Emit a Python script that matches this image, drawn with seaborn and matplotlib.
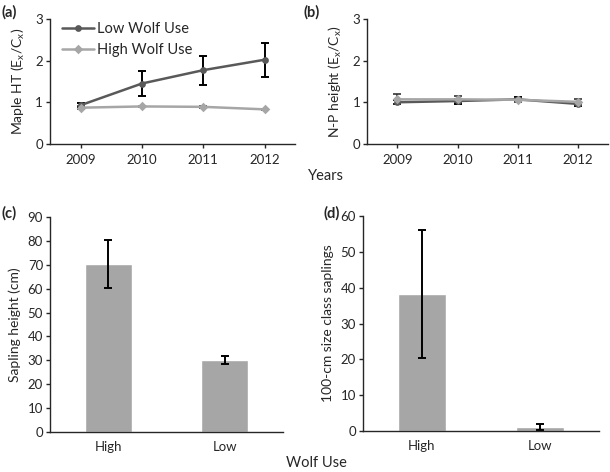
import matplotlib
matplotlib.use('Agg')
import matplotlib.pyplot as plt
import seaborn as sns
import pandas as pd

YEARS = ["2009", "2010", "2011", "2012"]
SERIES = ["Low Wolf Use", "High Wolf Use"]

# panel (a) maple height ratio
maple_low = [0.93, 1.45, 1.77, 2.02]
maple_low_err = [0.05, 0.30, 0.35, 0.41]
maple_high = [0.87, 0.90, 0.89, 0.83]
maple_high_err = [0.03, 0.02, 0.03, 0.02]

# panel (b) N-P height ratio
np_low = [1.00, 1.03, 1.07, 0.96]
np_low_err = [0.05, 0.06, 0.05, 0.05]
np_high = [1.07, 1.07, 1.06, 1.01]
np_high_err = [0.12, 0.07, 0.05, 0.08]

WOLF = ["High", "Low"]
sapling_height = [70.5, 30.1]
sapling_height_err = [10.1, 1.5]
size_class = [38.2, 1.2]
size_class_err = [17.8, 0.8]

COLORS = {"Low Wolf Use": "#595959", "High Wolf Use": "#a6a6a6"}
BAR = "#a6a6a6"

sns.set_style("white")
plt.rcParams['font.family'] = ['Lato', 'DejaVu Sans']
plt.rcParams['mathtext.fontset'] = 'custom'
plt.rcParams['mathtext.rm'] = 'Lato'


def style_axes(ax):
    sns.despine(ax=ax)
    for s in ["left", "bottom"]:
        ax.spines[s].set_color("#262626")
        ax.spines[s].set_linewidth(1.0)
    ax.tick_params(axis="y", direction="out", length=3, width=1, color="#262626",
                   left=True, labelsize=9.5, pad=2)
    ax.tick_params(axis="x", labelsize=9.5)


def line_panel(ax, low, low_err, high, high_err, ylabel, legend):
    df = pd.DataFrame({
        "year": YEARS * 2,
        "value": low + high,
        "series": [SERIES[0]] * 4 + [SERIES[1]] * 4,
    })
    # error bars first so lines sit on top
    for i, y in enumerate(YEARS):
        ax.errorbar(i, low[i], yerr=low_err[i], color="black", lw=1.4, capsize=3, capthick=1.4, zorder=2)
        ax.errorbar(i, high[i], yerr=high_err[i], color="#333333", lw=1.2, capsize=3, capthick=1.2, zorder=2)
    sns.pointplot(data=df, x="year", y="value", hue="series", hue_order=SERIES,
                  palette=COLORS, markers=["o", "D"], markersize=3.5, linewidth=1.8,
                  errorbar=None, ax=ax, legend=legend)
    ax.set_xlim(-0.5, 3.5)
    ax.set_ylim(0, 3)
    ax.set_yticks([0, 1, 2, 3])
    ax.set_xlabel("")
    ax.set_ylabel(ylabel, fontsize=10, labelpad=6)
    style_axes(ax)
    ax.tick_params(axis="x", direction="out", length=3, width=1, color="#262626", bottom=True, pad=4)
    if legend:
        ax.legend(loc="upper left", frameon=False, fontsize=10.5, handlelength=2.2,
                  handletextpad=0.2, borderaxespad=0.1, bbox_to_anchor=(0.02, 1.03),
                  labelspacing=0.45)


def bar_panel(ax, values, err, ylim, ylabel):
    df = pd.DataFrame({"wolf": WOLF, "value": values})
    sns.barplot(data=df, x="wolf", y="value", color=BAR, width=0.4, errorbar=None,
                saturation=1, ax=ax)
    ax.errorbar(range(len(WOLF)), values, yerr=err, fmt="none", ecolor="black",
                lw=1.4, capsize=3, capthick=1.4)
    ax.set_xlim(-0.5, 1.5)
    ax.set_ylim(0, ylim)
    ax.set_yticks(range(0, ylim + 1, 10))
    ax.set_xlabel("")
    ax.set_ylabel(ylabel, fontsize=10, labelpad=5)
    style_axes(ax)
    ax.tick_params(axis="x", bottom=False, pad=3)


fig = plt.figure(figsize=(6.1, 4.72), dpi=100)
ax_a = fig.add_axes([0.082, 0.695, 0.402, 0.265])
ax_b = fig.add_axes([0.602, 0.695, 0.395, 0.265])
ax_c = fig.add_axes([0.082, 0.085, 0.382, 0.455])
ax_d = fig.add_axes([0.595, 0.087, 0.387, 0.455])

line_panel(ax_a, maple_low, maple_low_err, maple_high, maple_high_err,
           r"Maple HT (E$_\mathregular{x}$/C$_\mathregular{x}$)", True)
line_panel(ax_b, np_low, np_low_err, np_high, np_high_err,
           r"N-P height (E$_\mathregular{x}$/C$_\mathregular{x}$)", False)
bar_panel(ax_c, sapling_height, sapling_height_err, 90, "Sapling height (cm)")
bar_panel(ax_d, size_class, size_class_err, 60, "100-cm size class saplings")

fig.text(308 / 610, 1 - 176 / 472, "Years", fontsize=10.5, ha="left", va="center")
fig.text(286 / 610, 1 - 463 / 472, "Wolf Use", fontsize=10.5, ha="left", va="center")
for lab, x, y in [("(a)", 1, 12), ("(b)", 304, 12), ("(c)", 1, 213), ("(d)", 323, 213)]:
    fig.text(x / 610, 1 - y / 472, lab, fontsize=10.5, fontweight="bold", ha="left", va="center")

fig.savefig("out.png", dpi=100)
